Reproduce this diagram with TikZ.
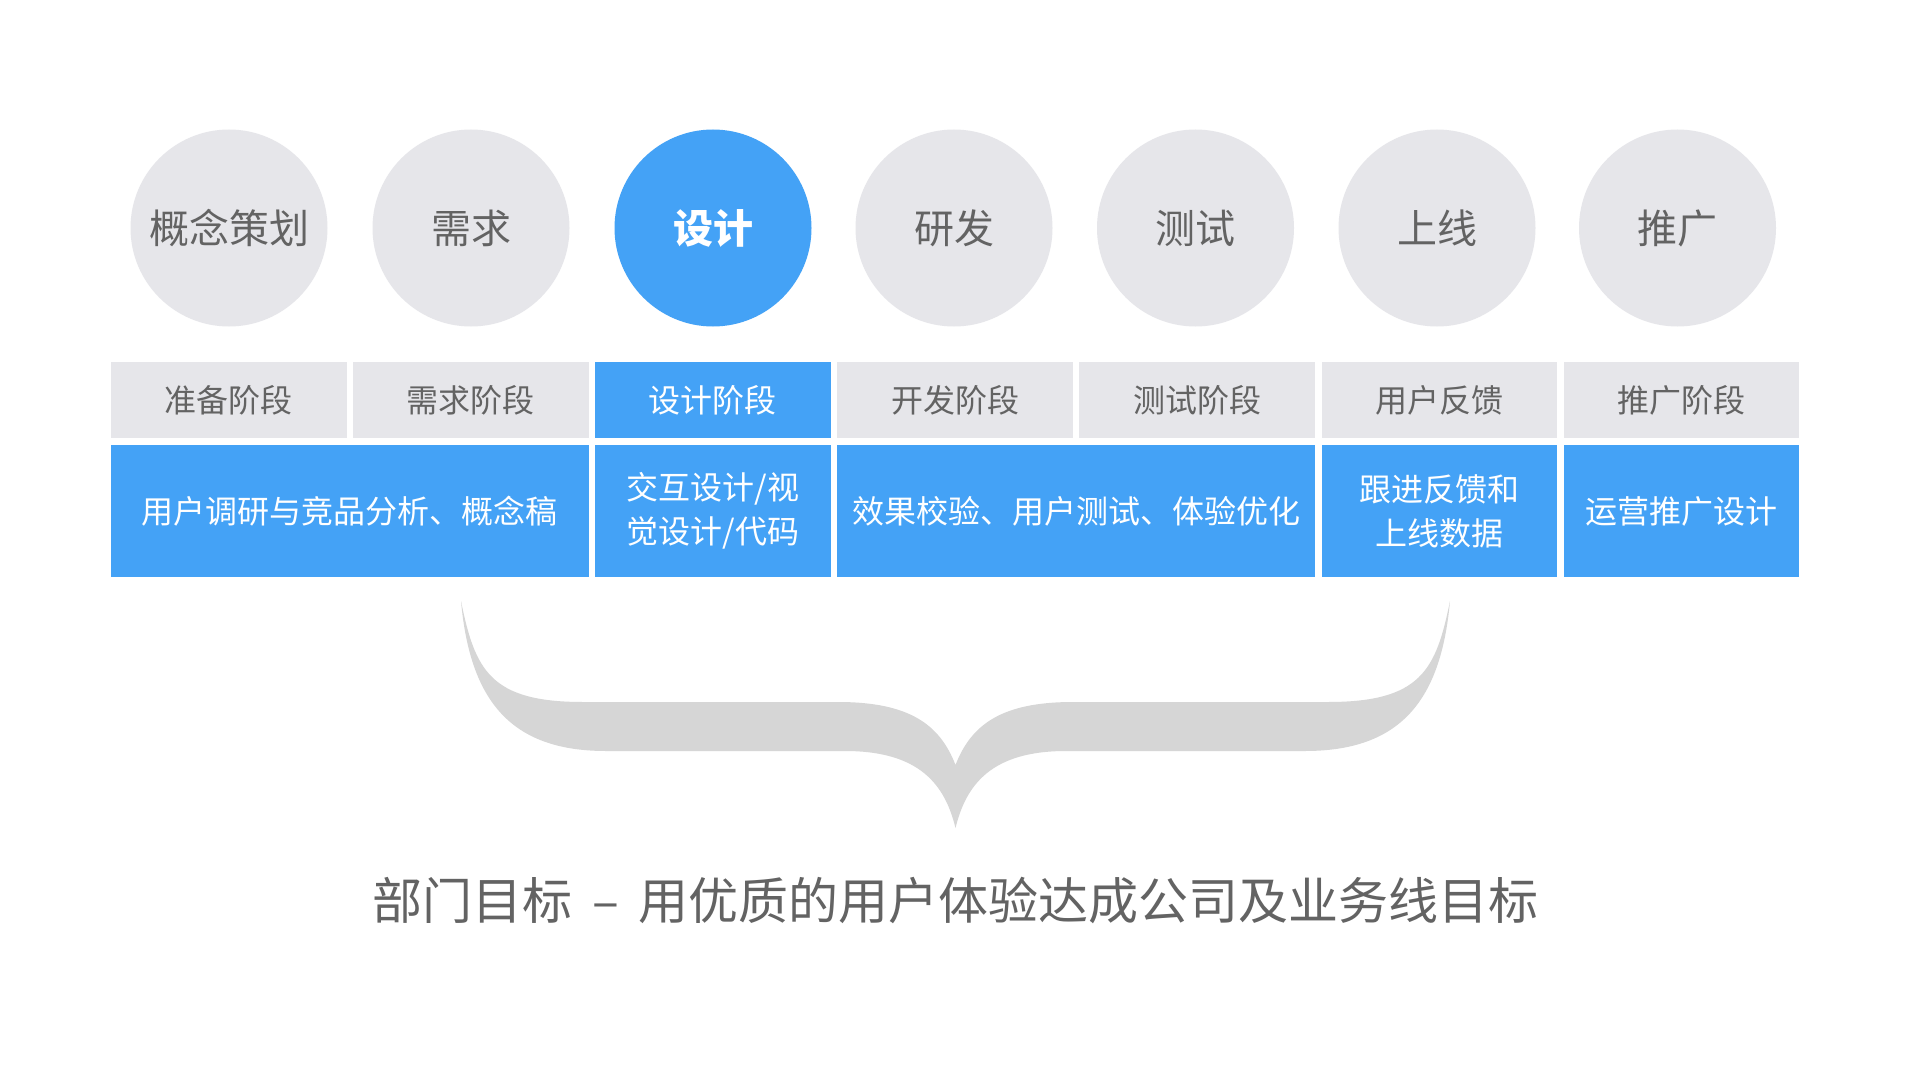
\documentclass[tikz,border=0pt]{standalone}
\usepackage{fontspec}
\setmainfont{Noto Sans CJK SC}
\definecolor{blu}{HTML}{44A2F6}
\definecolor{lgr}{HTML}{E6E6EA}
\definecolor{txt}{HTML}{636363}
\definecolor{brc}{HTML}{D6D6D6}
\begin{document}
\begin{tikzpicture}[x=1pt,y=-1pt,
  circ/.style={circle,fill=lgr,minimum size=197pt,inner sep=0pt,text=txt,font=\fontsize{40}{48}\selectfont},
  circon/.style={circ,fill=blu,text=white,font=\fontsize{40}{48}\selectfont\bfseries},
  stage/.style={rectangle,fill=lgr,minimum width=235.5pt,minimum height=76pt,inner sep=0pt,text=txt,font=\fontsize{32}{38}\selectfont},
  stageon/.style={stage,fill=blu,text=white},
  work/.style={rectangle,fill=blu,minimum height=132pt,inner sep=0pt,text=white,align=center,font=\fontsize{32}{44}\selectfont},
  goal/.style={text=txt,inner sep=0pt,font=\fontsize{50}{60}\selectfont},
]
\fill[white] (0,0) rectangle (1912,1070);
\useasboundingbox (0,0) rectangle (1912,1070);

% circles
\node[circ]   (c1) at (229,228) {概念策划};
\node[circ]   (c2) at (471,228) {需求};
\node[circon] (c3) at (713,228) {设计};
\node[circ]   (c4) at (954,228) {研发};
\node[circ]   (c5) at (1195.5,228) {测试};
\node[circ]   (c6) at (1437,228) {上线};
\node[circ]   (c7) at (1677.5,228) {推广};

% stage row
\node[stage]   (s1) at (228.75,400) {准备阶段};
\node[stage]   (s2) at (470.85,400) {需求阶段};
\node[stageon] (s3) at (712.95,400) {设计阶段};
\node[stage]   (s4) at (955.05,400) {开发阶段};
\node[stage]   (s5) at (1197.15,400) {测试阶段};
\node[stage]   (s6) at (1439.25,400) {用户反馈};
\node[stage]   (s7) at (1681.35,400) {推广阶段};

% work row
\node[work,minimum width=477.6pt] (w1) at (349.8,511) {用户调研与竞品分析、概念稿};
\node[work,minimum width=235.5pt] (w2) at (712.95,511) {交互设计/视\\觉设计/代码};
\node[work,minimum width=477.6pt] (w3) at (1076.1,511) {效果校验、用户测试、体验优化};
\node[work,minimum width=235.5pt] (w4) at (1439.25,511) {跟进反馈和\\上线数据};
\node[work,minimum width=235.5pt] (w5) at (1681.35,511) {运营推广设计};

% brace
\fill[brc] (461,601) .. controls (475,670) and (490,702) .. (583,702) -- (838,702)
  .. controls (910,702) and (940,725) .. (955.5,765)
  .. controls (971,725) and (1001,702) .. (1073,702) -- (1328,702)
  .. controls (1421,702) and (1436,670) .. (1450,601)
  .. controls (1441,700) and (1401,751) .. (1305,751) -- (1066,751)
  .. controls (991,751) and (966,785) .. (955.5,828)
  .. controls (945,785) and (920,751) .. (845,751) -- (606,751)
  .. controls (510,751) and (470,700) .. (461,601) -- cycle;

% goal
\node[goal] (goal) at (955.5,900) {部门目标 \,–\, 用优质的用户体验达成公司及业务线目标};
\end{tikzpicture}
\end{document}
